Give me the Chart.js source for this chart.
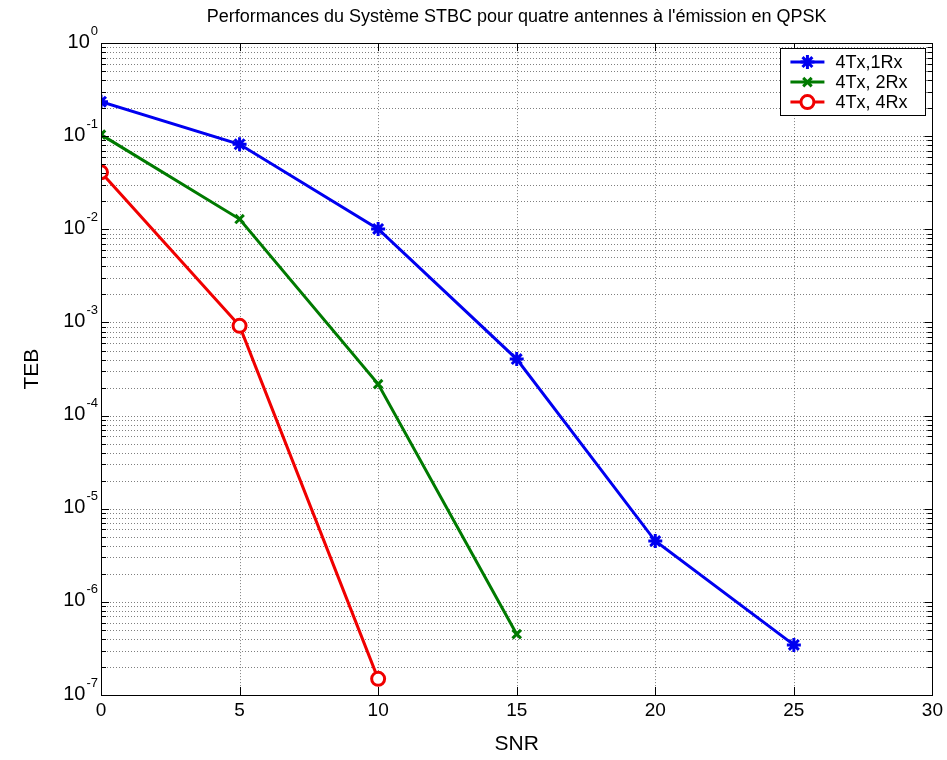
<!DOCTYPE html>
<html>
<head>
<meta charset="utf-8">
<title>Performances STBC</title>
<script src="https://cdn.jsdelivr.net/npm/chart.js@4.4.1/dist/chart.umd.min.js"></script>
<style>
  html, body { margin: 0; padding: 0; background: #fff; }
  #wrap { width: 947px; height: 760px; position: relative; }
</style>
</head>
<body>
<div id="wrap"><canvas id="berChart"></canvas></div>
<script>
// Données
const snr = [0, 5, 10, 15, 20, 25];
const teb1Rx = [0.235, 0.082, 0.0101, 4.05e-4, 4.5e-6, 3.45e-7];
const teb2Rx = [0.104, 0.0129, 2.18e-4, 4.5e-7];
const teb4Rx = [0.041, 9.2e-4, 1.49e-7];

const xTicks = [0, 5, 10, 15, 20, 25, 30];
const yExponents = [-7, -6, -5, -4, -3, -2, -1, 0];
const yMinorSteps = [2, 3, 4, 5, 6, 7, 8, 9];

const FONT = "'Liberation Sans', Arial, Helvetica, sans-serif";

function points(ys) {
    return ys.map((y, i) => ({ x: snr[i], y: y }));
}

// grille pointillée, graduations internes, cadre
const matlabAxes = {
    id: 'matlabAxes',
    beforeDatasetsDraw(chart) {
        const { ctx, chartArea: a, scales: { x, y } } = chart;
        ctx.save();
        ctx.strokeStyle = 'rgba(0,0,0,0.5)';
        ctx.lineWidth = 1;
        ctx.setLineDash([1, 2]);
        x.ticks.forEach(t => {
            const px = Math.round(x.getPixelForValue(t.value)) + 0.5;
            if (px <= a.left + 1 || px >= a.right - 1) return;
            ctx.beginPath(); ctx.moveTo(px, a.top); ctx.lineTo(px, a.bottom); ctx.stroke();
        });
        y.ticks.forEach(t => {
            const py = Math.round(y.getPixelForValue(t.value)) + 0.5;
            if (py <= a.top + 1 || py >= a.bottom - 1) return;
            ctx.beginPath(); ctx.moveTo(a.left, py); ctx.lineTo(a.right, py); ctx.stroke();
        });
        ctx.restore();
    },
    afterDatasetsDraw(chart) {
        const { ctx, chartArea: a, scales: { x, y } } = chart;
        ctx.save();
        ctx.strokeStyle = '#000';
        ctx.lineWidth = 1;
        ctx.setLineDash([]);
        x.ticks.forEach(t => {
            const px = Math.round(x.getPixelForValue(t.value)) + 0.5;
            ctx.beginPath();
            ctx.moveTo(px, a.bottom); ctx.lineTo(px, a.bottom - 8);
            ctx.moveTo(px, a.top); ctx.lineTo(px, a.top + 8);
            ctx.stroke();
        });
        y.ticks.forEach(t => {
            const py = Math.round(y.getPixelForValue(t.value)) + 0.5;
            const len = t.major ? 8 : 5;
            ctx.beginPath();
            ctx.moveTo(a.left, py); ctx.lineTo(a.left + len, py);
            ctx.moveTo(a.right, py); ctx.lineTo(a.right - len, py);
            ctx.stroke();
        });
        ctx.strokeRect(Math.round(a.left) + 0.5, Math.round(a.top) + 0.5,
            Math.round(a.right - a.left), Math.round(a.bottom - a.top));

        // étiquettes 10^n
        ctx.fillStyle = '#000';
        ctx.textBaseline = 'middle';
        yExponents.forEach(e => {
            const py = y.getPixelForValue(Math.pow(10, e));
            const exp = String(e);
            ctx.font = '13px ' + FONT;
            const ew = ctx.measureText(exp).width;
            const right = a.left - 3;
            ctx.textAlign = 'right';
            ctx.fillText(exp, right, py - 12);
            ctx.font = '20px ' + FONT;
            ctx.fillText('10', right - ew - 1, py - 1);
        });
        ctx.restore();
    }
};

// légende dans le cadre, en haut à droite
const boxLegend = {
    id: 'boxLegend',
    afterDraw(chart) {
        const { ctx, chartArea: a } = chart;
        const w = 145, h = 67;
        const left = a.right - 7 - w, top = a.top + 5;
        ctx.save();
        ctx.fillStyle = '#fff';
        ctx.fillRect(left, top, w, h);
        ctx.strokeStyle = '#000';
        ctx.lineWidth = 1;
        ctx.strokeRect(Math.round(left) + 0.5, Math.round(top) + 0.5, w, h);
        chart.data.datasets.forEach((ds, i) => {
            const cy = top + 14 + i * 20;
            ctx.strokeStyle = ds.borderColor;
            ctx.lineWidth = 3;
            ctx.beginPath(); ctx.moveTo(left + 10, cy); ctx.lineTo(left + 44, cy); ctx.stroke();
            ctx.fillStyle = ds.pointBackgroundColor;
            ctx.lineWidth = ds.pointBorderWidth;
            if (Chart.helpers && Chart.helpers.drawPoint) {
                Chart.helpers.drawPoint(ctx, { pointStyle: ds.pointStyle, radius: ds.pointRadius, borderWidth: ds.pointBorderWidth, rotation: 0 }, left + 27, cy);
            }
            ctx.fillStyle = '#000';
            ctx.font = '18px ' + FONT;
            ctx.textAlign = 'left';
            ctx.textBaseline = 'middle';
            ctx.fillText(ds.label, left + 55, cy + 1);
        });
        ctx.restore();
    }
};

const datasets = [
    { label: '4Tx,1Rx', data: points(teb1Rx), color: '#0000f0', style: 'star', r: 7, bg: '#0000f0' },
    { label: '4Tx, 2Rx', data: points(teb2Rx), color: '#007a00', style: 'crossRot', r: 6, bg: '#007a00' },
    { label: '4Tx, 4Rx', data: points(teb4Rx), color: '#f00000', style: 'circle', r: 6.5, bg: '#ffffff' }
].map(d => ({
    label: d.label,
    data: d.data,
    borderColor: d.color,
    backgroundColor: d.color,
    borderWidth: 3,
    tension: 0,
    fill: false,
    pointStyle: d.style,
    pointRadius: d.r,
    pointHoverRadius: d.r,
    pointBorderWidth: 3,
    pointBorderColor: d.color,
    pointBackgroundColor: d.bg
}));

new Chart(document.getElementById('berChart').getContext('2d'), {
    type: 'line',
    data: { datasets: datasets },
    plugins: [matlabAxes, boxLegend],
    options: {
        responsive: true,
        maintainAspectRatio: false,
        animation: false,
        layout: { padding: { left: 0, right: 13, top: 0, bottom: 0 } },
        plugins: {
            legend: { display: false },
            tooltip: { enabled: false },
            title: {
                display: true,
                fullSize: false,
                text: "Performances du Système STBC pour quatre antennes à l'émission en QPSK",
                color: '#000',
                font: { family: FONT, size: 18, weight: 'normal', lineHeight: 1.2 },
                padding: { top: 6, bottom: 15.5 }
            }
        },
        scales: {
            x: {
                type: 'linear',
                min: 0,
                max: 30,
                afterBuildTicks: s => { s.ticks = xTicks.map(v => ({ value: v })); },
                afterFit: s => { s.height = 65; },
                grid: { display: false, drawTicks: false },
                border: { display: false },
                ticks: {
                    color: '#000',
                    padding: 4,
                    maxRotation: 0,
                    font: { family: FONT, size: 19 }
                },
                title: {
                    display: true,
                    text: 'SNR',
                    color: '#000',
                    font: { family: FONT, size: 21 },
                    padding: { top: 0, bottom: 3 }
                }
            },
            y: {
                type: 'logarithmic',
                min: 1e-7,
                max: 1,
                afterBuildTicks: s => {
                    const t = [];
                    yExponents.forEach(e => {
                        t.push({ value: Math.pow(10, e), major: true });
                        if (e < 0) yMinorSteps.forEach(k => t.push({ value: k * Math.pow(10, e), major: false }));
                    });
                    s.ticks = t;
                },
                afterFit: s => { s.width = 101; },
                grid: { display: false },
                border: { display: false },
                ticks: { display: false },
                title: {
                    display: true,
                    text: 'TEB',
                    color: '#000',
                    font: { family: FONT, size: 21 },
                    padding: { top: 20, bottom: 0 }
                }
            }
        }
    }
});
</script>
</body>
</html>
